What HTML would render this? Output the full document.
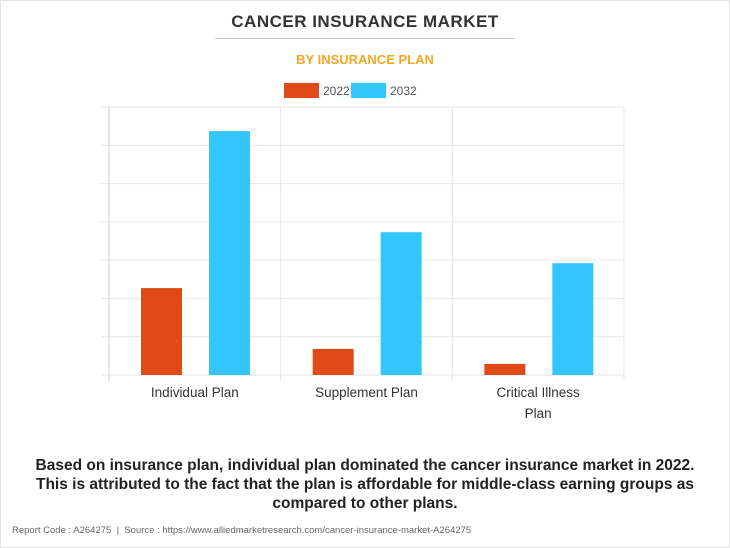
<!DOCTYPE html>
<html><head><meta charset="utf-8"><style>
body{margin:0;background:#fff;}
#wrap{position:relative;width:728px;height:546px;border:1px solid #e4e4e4;font-family:"Liberation Sans",sans-serif;overflow:hidden;}
.t{position:absolute;left:0;width:728px;text-align:center;}
</style></head><body>
<div id="wrap">
<div class="t" style="top:11px;font-size:17px;font-weight:bold;color:#333;letter-spacing:0.5px">CANCER INSURANCE MARKET</div>
<div style="position:absolute;left:214px;top:37px;width:300px;height:1px;background:#ccc"></div>
<div class="t" style="top:51px;font-size:13px;font-weight:bold;color:#f5a623">BY INSURANCE PLAN</div>
<svg style="position:absolute;left:0;top:0" width="730" height="440" id="chart">
<g>
<rect x="283" y="82" width="35" height="15" fill="#e04a17"/>
<text x="322" y="94" font-size="12" fill="#555" font-family="Liberation Sans">2022</text>
<rect x="350" y="82" width="35" height="15" fill="#33c6fd"/>
<text x="389" y="94" font-size="12" fill="#555" font-family="Liberation Sans">2032</text>
</g>
</svg>
<div class="t" style="top:455px;font-size:15.5px;font-weight:bold;color:#222;line-height:19px">Based on insurance plan, individual plan dominated the cancer insurance market in 2022.<br>This is attributed to the fact that the plan is affordable for middle-class earning groups as<br>compared to other plans.</div>
<div style="position:absolute;left:11px;top:524px;font-size:9.5px;color:#666">Report Code : A264275 &nbsp;|&nbsp; Source : https://www.alliedmarketresearch.com/cancer-insurance-market-A264275</div>
</div>
<script>
const categories=["Individual Plan","Supplement Plan","Critical Illness Plan"];
const values2022=[2.27,0.68,0.29];
const values2032=[6.37,3.73,2.92];
const yTicks=[0,1,2,3,4,5,6,7];
const svg=document.getElementById('chart');
const NS='http://www.w3.org/2000/svg';
const L=108,R=623,T=106,B=374,yMax=7;
const y=v=>B-(v/yMax)*(B-T);
const bw=(R-L)/categories.length;
function mk(tag,a){const e=document.createElementNS(NS,tag);for(const k in a)e.setAttribute(k,a[k]);svg.appendChild(e);return e;}
yTicks.forEach(t=>{const g=mk('line',{x1:100,x2:R,y1:y(t),y2:y(t),stroke:'#e6e6e6','stroke-width':1});

});
for(let i=0;i<=categories.length;i++){const v=mk('line',{x1:L+i*bw,x2:L+i*bw,y1:T,y2:B+6,stroke:i==0?'#ccc':'#e6e6e6','stroke-width':1});

}
categories.forEach((c,i)=>{
const x0=L+i*bw;
const r1=mk('rect',{x:x0+32,y:y(values2022[i]),width:41,height:B-y(values2022[i]),fill:'#e04a17'});


const r2=mk('rect',{x:x0+100,y:y(values2032[i]),width:41,height:B-y(values2032[i]),fill:'#33c6fd'});


const words=c==="Critical Illness Plan"?["Critical Illness","Plan"]:[c];
words.forEach((w,j)=>{const t=mk('text',{x:x0+bw/2,y:396+j*21,'text-anchor':'middle','font-size':13.5,fill:'#333','font-family':'Liberation Sans'});t.textContent=w;

});
});
</script>
</body></html>
